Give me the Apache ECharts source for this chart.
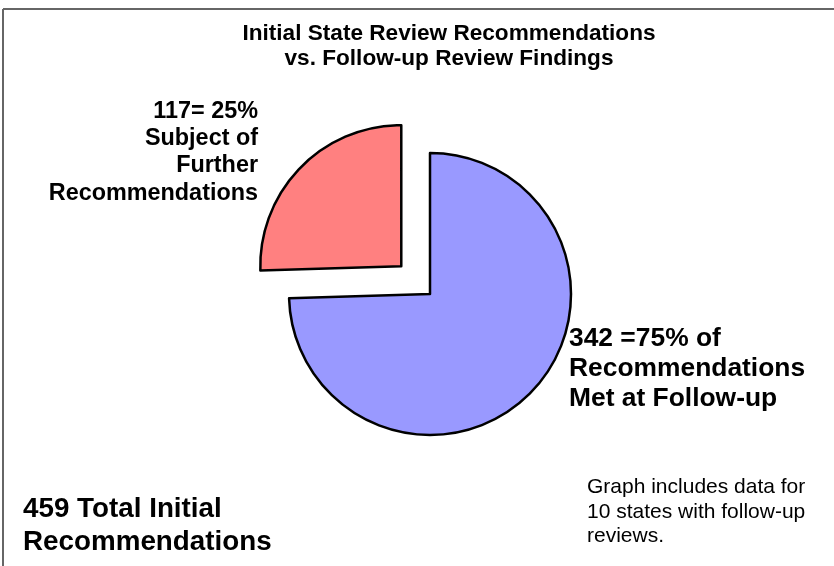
<!doctype html>
<html>
<head>
<meta charset="utf-8">
<script src="https://cdn.jsdelivr.net/npm/echarts@6/dist/echarts.min.js"></script>
<style>
    html, body { margin: 0; padding: 0; background: #fff; }
    #chart { width: 834px; height: 566px; }
</style>
</head>
<body>
<div id="chart"></div>
<script>
    // data
    let categories = ['Recommendations Met at Follow-up', 'Subject of Further Recommendations'];
    let counts = [342, 117];
    let sliceColors = ['#9999ff', '#ff8080'];
    let chartTitle = 'Initial State Review Recommendations\nvs. Follow-up Review Findings';
    let noteText = 'Graph includes data for\n10 states with follow-up\nreviews.';

    let total = counts[0] + counts[1];
    let pct0 = Math.round(counts[0] / total * 100);
    let pct1 = Math.round(counts[1] / total * 100);

    let font = '"Liberation Sans", Arial, sans-serif';

    let pieData = [];
    for (let i = 0; i < counts.length; i++) {
        pieData.push({
            name: categories[i],
            value: counts[i],
            selected: i == 1,
            itemStyle: {color: sliceColors[i]}
        });
    }

    let chart = echarts.init(document.getElementById('chart'));
    chart.setOption({
        animation: false,
        title: {
            text: chartTitle,
            left: 444,
            top: 16,
            textAlign: 'center',
            textStyle: {fontFamily: font, fontSize: 22.6, fontWeight: 'bold', color: '#000', lineHeight: 25.5}
        },
        series: [{
            type: 'pie',
            center: [430, 294],
            radius: 141,
            startAngle: 90,
            clockwise: true,
            selectedMode: 'single',
            selectedOffset: 40,
            silent: true,
            label: {show: false},
            labelLine: {show: false},
            itemStyle: {borderColor: '#000', borderWidth: 2.5},
            emphasis: {disabled: true},
            data: pieData
        }],
        graphic: [
            {type: 'line', shape: {x1: 3, y1: 9, x2: 834, y2: 9}, style: {stroke: '#666', lineWidth: 2}},
            {type: 'line', shape: {x1: 3, y1: 9, x2: 3, y2: 566}, style: {stroke: '#666', lineWidth: 2}},
            {
                type: 'text', x: 258, y: 98,
                style: {
                    text: counts[1] + '= ' + pct1 + '%\nSubject of\nFurther\nRecommendations',
                    align: 'right', verticalAlign: 'top',
                    font: 'bold 23.4px ' + font, lineHeight: 27.2, fill: '#000'
                }
            },
            {
                type: 'text', x: 569, y: 324,
                style: {
                    text: counts[0] + ' =' + pct0 + '% of\nRecommendations\nMet at Follow-up',
                    verticalAlign: 'top',
                    font: 'bold 26.4px ' + font, lineHeight: 30, fill: '#000'
                }
            },
            {
                type: 'text', x: 23, y: 493,
                style: {
                    text: total + ' Total Initial\nRecommendations',
                    verticalAlign: 'top',
                    font: 'bold 27.8px ' + font, lineHeight: 33, fill: '#000'
                }
            },
            {
                type: 'text', x: 587, y: 475,
                style: {
                    text: noteText,
                    verticalAlign: 'top',
                    font: '21px ' + font, lineHeight: 24.5, fill: '#000'
                }
            }
        ]
    });
</script>
</body>
</html>
